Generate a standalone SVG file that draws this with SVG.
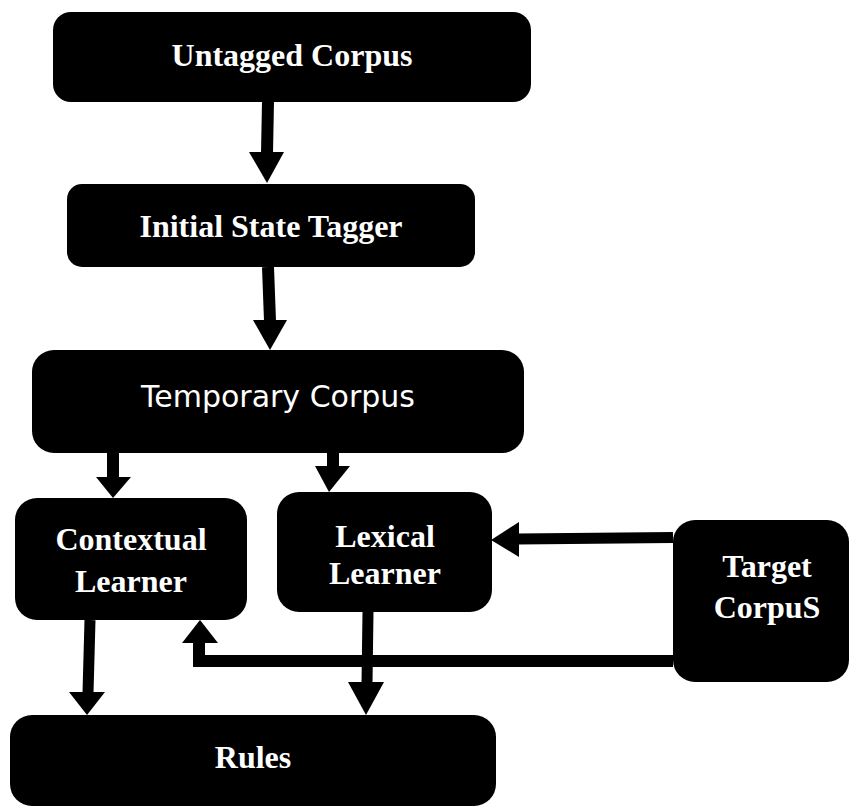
<svg xmlns="http://www.w3.org/2000/svg" width="849" height="809" viewBox="0 0 849 809">
  <style>
    .box { fill: #000; }
    .lbl { fill: #fff; font-family: "Liberation Serif", "Times New Roman", serif; font-weight: bold; font-size: 32px; text-anchor: middle; }
    .lbl-sans { fill: #fff; font-family: "DejaVu Sans", Verdana, sans-serif; font-size: 30px; text-anchor: middle; }
    .shaft { fill: none; stroke: #000; stroke-width: 12; stroke-linejoin: miter; stroke-linecap: butt; }
    .head { fill: #000; }
  </style>
  <rect x="0" y="0" width="849" height="809" fill="#fff"/>

  <g id="untagged-corpus">
    <rect class="box" x="53" y="12" width="478" height="90" rx="18"/>
    <text class="lbl" x="292" y="66">Untagged Corpus</text>
  </g>

  <g id="initial-state-tagger">
    <rect class="box" x="67" y="184" width="408" height="83" rx="15"/>
    <text class="lbl" x="271" y="237">Initial State Tagger</text>
  </g>

  <g id="temporary-corpus">
    <rect class="box" x="32" y="350" width="492" height="103" rx="22"/>
    <text class="lbl-sans" x="278" y="407">Temporary Corpus</text>
  </g>

  <g id="contextual-learner">
    <rect class="box" x="15" y="498" width="232" height="122" rx="22"/>
    <text class="lbl" x="131" y="550">Contextual</text>
    <text class="lbl" x="131" y="592">Learner</text>
  </g>

  <g id="lexical-learner">
    <rect class="box" x="277" y="492" width="215" height="120" rx="22"/>
    <text class="lbl" x="385" y="547">Lexical</text>
    <text class="lbl" x="385" y="584">Learner</text>
  </g>

  <g id="target-corpus">
    <rect class="box" x="673" y="520" width="176" height="162" rx="22"/>
    <text class="lbl" x="767" y="577">Target</text>
    <text class="lbl" x="767" y="618">CorpuS</text>
  </g>

  <g id="rules">
    <rect class="box" x="10" y="715" width="486" height="91" rx="22"/>
    <text class="lbl" x="253" y="768">Rules</text>
  </g>

  <g id="connectors">
    <!-- Untagged Corpus -> Initial State Tagger -->
    <path class="shaft" d="M268,102 L267,153"/>
    <polygon class="head" points="249,152 284,152 267,183"/>

    <!-- Initial State Tagger -> Temporary Corpus -->
    <path class="shaft" d="M268,267 L270,321"/>
    <polygon class="head" points="253,320 287,320 270,350"/>

    <!-- Temporary Corpus -> Contextual Learner -->
    <path class="shaft" d="M113,453 L113,478"/>
    <polygon class="head" points="96,477 131,477 113,498"/>

    <!-- Temporary Corpus -> Lexical Learner -->
    <path class="shaft" d="M333,453 L333,467"/>
    <polygon class="head" points="315,466 350,466 329,492"/>

    <!-- Target Corpus -> Lexical Learner -->
    <path class="shaft" style="stroke-width:11" d="M673,537.5 L518,539"/>
    <polygon class="head" points="519,522 519,557 491,540"/>

    <!-- Target Corpus -> Contextual Learner -->
    <path class="shaft" d="M673,661 L199,661 L199,642"/>
    <polygon class="head" points="182,643 218,643 200,620"/>

    <!-- Contextual Learner -> Rules -->
    <path class="shaft" style="stroke-width:11" d="M90,620 L88,693"/>
    <polygon class="head" points="69,692 105,692 87,715"/>

    <!-- Lexical Learner -> Rules -->
    <path class="shaft" style="stroke-width:11" d="M368,612 L367,683"/>
    <polygon class="head" points="348,682 384,682 366,715"/>
  </g>
</svg>
